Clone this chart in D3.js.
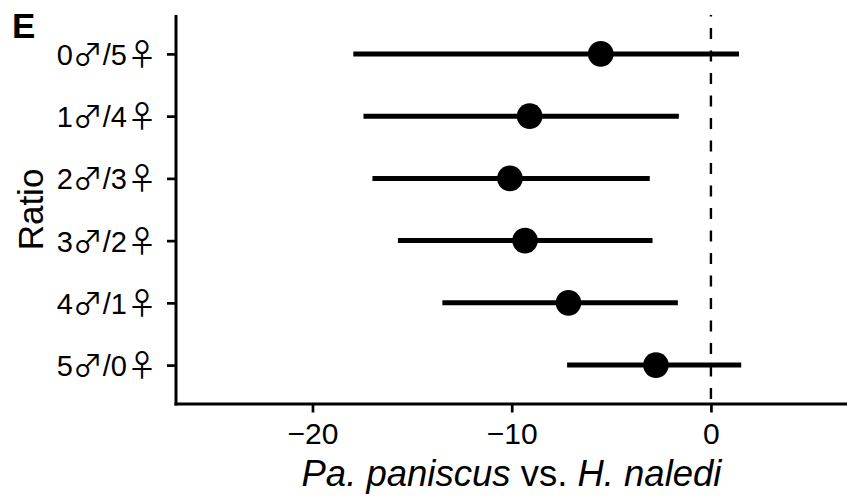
<!DOCTYPE html>
<html>
<head>
<meta charset="utf-8">
<script src="https://cdn.jsdelivr.net/npm/d3@7"></script>
<style>
  html, body { margin: 0; padding: 0; background: #fff; }
  svg { display: block; }
  text { font-family: "Liberation Sans", Arial, Helvetica, sans-serif; fill: #000; }
</style>
</head>
<body>
<svg id="chart" width="847" height="497"></svg>
<script>
// ---- data ----
const ratios = ["0♂/5♀", "1♂/4♀", "2♂/3♀", "3♂/2♀", "4♂/1♀", "5♂/0♀"];
const estimates = [-5.53, -9.10, -10.09, -9.33, -7.15, -2.76];
const lower = [-17.95, -17.44, -16.99, -15.71, -13.48, -7.22];
const upper = [1.41, -1.61, -3.07, -2.93, -1.66, 1.52];
const xTicks = [-20, -10, 0];
const xDomain = [-26.85, 6.83];
const refLine = 0;
const panelLabel = "E";
const yTitle = "Ratio";

const data = ratios.map((r, i) => ({ r, est: estimates[i], lo: lower[i], hi: upper[i] }));

const svg = d3.select("#chart");
const pL = 176, pR = 847, pT = 15, pB = 404;

const x = d3.scaleLinear().domain(xDomain).range([pL, pR]);
const y = d3.scalePoint().domain(ratios).range([pT, pB]).padding(0.625);

// dashed reference line
svg.append("line")
  .attr("x1", x(refLine)).attr("x2", x(refLine))
  .attr("y1", pB).attr("y2", pT)
  .attr("stroke", "#000").attr("stroke-width", 2.4)
  .attr("stroke-dasharray", "11 11.5")
  .attr("stroke-dashoffset", 17.5);

// error bars
svg.append("g").selectAll("line").data(data).join("line")
  .attr("x1", d => x(d.lo)).attr("x2", d => x(d.hi))
  .attr("y1", d => y(d.r)).attr("y2", d => y(d.r))
  .attr("stroke", "#000").attr("stroke-width", 5);

// points
svg.append("g").selectAll("circle").data(data).join("circle")
  .attr("cx", d => x(d.est)).attr("cy", d => y(d.r))
  .attr("r", 12.8).attr("fill", "#000");

// x axis
const xAxis = svg.append("g").attr("transform", `translate(0,${pB})`)
  .call(d3.axisBottom(x).tickValues(xTicks).tickSize(8.5).tickPadding(10)
    .tickFormat(d => d < 0 ? "\u2212" + Math.abs(d) : String(d)));
xAxis.select(".domain").attr("stroke-width", 3).attr("d", `M${pL - 1.5},0H${pR}`);
xAxis.selectAll(".tick line").attr("stroke-width", 2.7);
xAxis.selectAll(".tick text").attr("font-size", 30).attr("dy", "0.71em")
  .style("font-family", "'Liberation Sans', Arial, sans-serif");

// y axis
const yAxis = svg.append("g").attr("transform", `translate(${pL},0)`)
  .call(d3.axisLeft(y).tickSize(9).tickPadding(14));
yAxis.select(".domain").attr("stroke-width", 3).attr("d", `M0,${pT}V${pB + 1.5}`);
yAxis.selectAll(".tick line").attr("stroke-width", 2.7);
yAxis.selectAll(".tick text").each(function (d) {
  const t = d3.select(this).text("").attr("font-size", 29).attr("dy", "0.36em")
    .style("font-family", "'Liberation Sans', Arial, sans-serif");
  Array.from(d).forEach(ch => {
    const s = t.append("tspan").text(ch);
    if (ch === "♂" || ch === "♀") {
      s.style("font-family", "'Noto Sans CJK JP', sans-serif").attr("font-size", 30);
      if (ch === "♀") s.style("letter-spacing", "-4px");
    }
  });
});

// axis titles
const xt = svg.append("text")
  .attr("x", (pL + pR) / 2).attr("y", 486)
  .attr("text-anchor", "middle").attr("font-size", 36.5);
xt.append("tspan").attr("font-style", "italic").text("Pa. paniscus");
xt.append("tspan").text(" vs. ");
xt.append("tspan").attr("font-style", "italic").text("H. naledi");

svg.append("text")
  .attr("transform", "translate(43,209.5) rotate(-90)")
  .attr("text-anchor", "middle").attr("font-size", 35).text(yTitle);

svg.append("text")
  .attr("x", 12).attr("y", 38)
  .attr("font-size", 35).attr("font-weight", "bold").text(panelLabel);
</script>
</body>
</html>
